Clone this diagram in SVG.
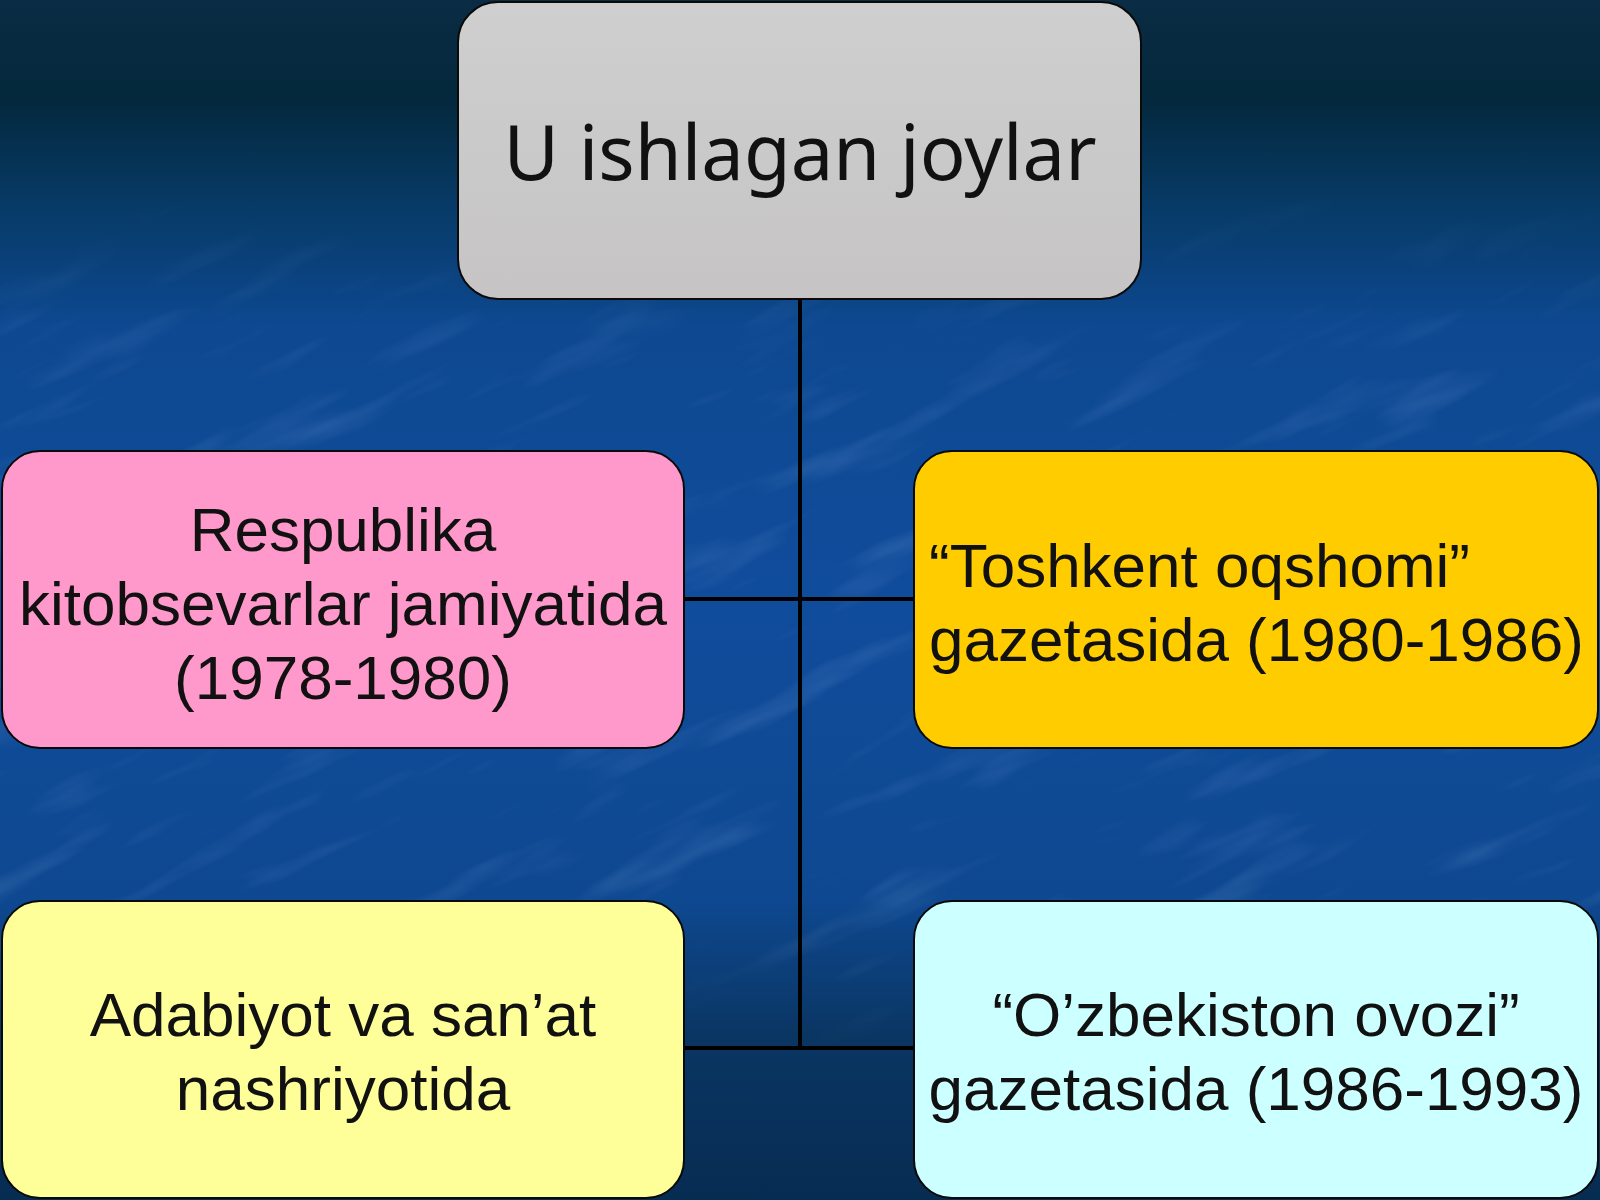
<svg xmlns="http://www.w3.org/2000/svg" width="1600" height="1200" viewBox="0 0 1600 1200">
<defs>
<linearGradient id="bg" x1="0" y1="0" x2="0" y2="1">
<stop offset="0" stop-color="#0a2c44"/>
<stop offset="0.08" stop-color="#04283c"/>
<stop offset="0.17" stop-color="#073a66"/>
<stop offset="0.27" stop-color="#0d4890"/>
<stop offset="0.5" stop-color="#104c9c"/>
<stop offset="0.75" stop-color="#0e4890"/>
<stop offset="0.86" stop-color="#0a3664"/>
<stop offset="1" stop-color="#072c52"/>
</linearGradient>
<linearGradient id="fade" x1="0" y1="0" x2="0" y2="1">
<stop offset="0" stop-color="#000"/>
<stop offset="0.15" stop-color="#000"/>
<stop offset="0.35" stop-color="#fff"/>
<stop offset="0.75" stop-color="#fff"/>
<stop offset="0.88" stop-color="#000"/>
<stop offset="1" stop-color="#000"/>
</linearGradient>
<mask id="texmask">
<rect width="1600" height="1200" fill="url(#fade)"/>
</mask>
<linearGradient id="gray" x1="0" y1="0" x2="0" y2="1">
<stop offset="0" stop-color="#cfcfd0"/>
<stop offset="1" stop-color="#c6c4c4"/>
</linearGradient>
<filter id="tex" x="0" y="0" width="100%" height="100%">
<feTurbulence type="fractalNoise" baseFrequency="0.006 0.03" numOctaves="3" seed="11"/>
<feColorMatrix type="matrix" values="0 0 0 0 0.45  0 0 0 0 0.65  0 0 0 0 1  0 0 0 1.3 -0.72"/>
</filter>
</defs>
<style>
.box{stroke:#0a0a0a;stroke-width:2}
.lbl{font-family:"Liberation Sans",Arial,sans-serif;font-size:62px;fill:#111}
.c{text-anchor:middle}
.ttl{font-family:"Noto Sans","Open Sans",sans-serif;font-size:76px;fill:#111;text-anchor:middle}
.conn line{stroke:#000;stroke-width:4}
</style>
<rect width="1600" height="1200" fill="url(#bg)"/>
<g mask="url(#texmask)" opacity="0.3">
<rect x="-400" y="-400" width="2400" height="2000" filter="url(#tex)" transform="rotate(-25 800 600)"/>
</g>
<g class="conn" id="connectors">
<line x1="800" y1="299" x2="800" y2="1050"/>
<line x1="684" y1="599" x2="914" y2="599"/>
<line x1="684" y1="1048" x2="914" y2="1048"/>
</g>
<g id="n-top">
<rect class="box" x="458" y="2" width="683" height="297" rx="40" fill="url(#gray)"/>
<text class="ttl" x="800" y="180">U ishlagan joylar</text>
</g>
<g id="n-respublika">
<rect class="box" x="2" y="451" width="682" height="297" rx="38" fill="#ff99cc"/>
<text class="lbl c" x="343" y="551">Respublika</text>
<text class="lbl c" x="343" y="625">kitobsevarlar jamiyatida</text>
<text class="lbl c" x="343" y="699">(1978-1980)</text>
</g>
<g id="n-toshkent">
<rect class="box" x="914" y="451" width="684" height="297" rx="38" fill="#ffcc00"/>
<text class="lbl" x="929" y="587">“Toshkent oqshomi”</text>
<text class="lbl" x="929" y="661">gazetasida (1980-1986)</text>
</g>
<g id="n-adabiyot">
<rect class="box" x="2" y="901" width="682" height="297" rx="38" fill="#ffff99"/>
<text class="lbl c" x="343" y="1036">Adabiyot va san’at</text>
<text class="lbl c" x="343" y="1110">nashriyotida</text>
</g>
<g id="n-ozbekiston">
<rect class="box" x="914" y="901" width="684" height="297" rx="38" fill="#ccffff"/>
<text class="lbl c" x="1256" y="1036">“O’zbekiston ovozi”</text>
<text class="lbl c" x="1256" y="1110">gazetasida (1986-1993)</text>
</g>
</svg>
